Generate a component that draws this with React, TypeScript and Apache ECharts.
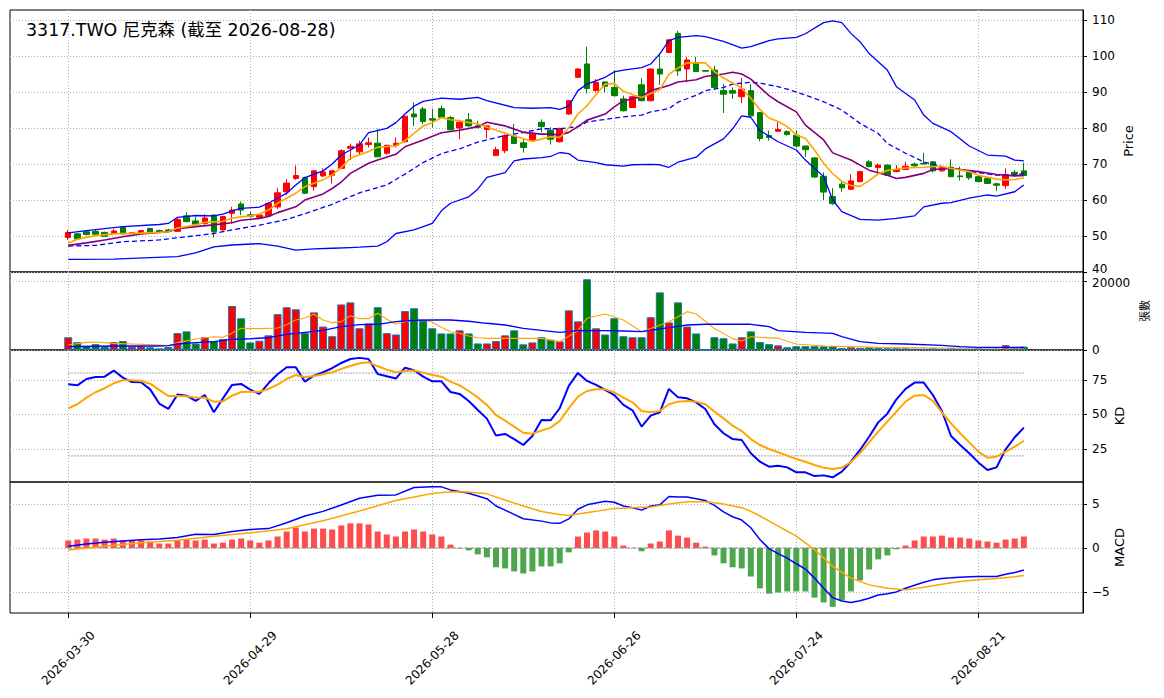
import { useEffect, useRef } from 'react';
import * as echarts from 'echarts';

const chartTitle = '3317.TWO 尼克森 (截至 2026-08-28)';
const tickIndex = [0, 20, 40, 60, 80, 100];
const tickLabels = ['2026-03-30', '2026-04-29', '2026-05-28', '2026-06-26', '2026-07-24', '2026-08-21'];

// one row per trading day: [open, close, low, high]
const candles = [
  [49.6, 51.0, 48.9, 51.7], [50.6, 49.2, 49.1, 50.8], [51.2, 50.4, 50.1, 51.5], [51.3, 50.5, 50.3, 51.8],
  [51.0, 49.9, 49.8, 51.2], [50.8, 51.4, 50.4, 51.9], [52.4, 50.6, 50.4, 52.6], [50.7, 50.9, 50.6, 51.0],
  [50.8, 51.5, 50.7, 51.7], [52.1, 51.0, 50.8, 52.3], [51.5, 51.0, 50.9, 51.8], [51.7, 51.3, 51.1, 52.0],
  [51.3, 54.6, 51.2, 55.0], [55.6, 54.0, 53.8, 56.6], [54.2, 53.3, 53.1, 55.4], [53.5, 55.0, 53.1, 56.1],
  [55.8, 51.2, 49.6, 56.1], [51.7, 55.4, 51.5, 55.6], [56.3, 57.2, 53.5, 58.1], [58.9, 57.2, 55.8, 59.6],
  [55.9, 55.5, 55.2, 56.8], [55.2, 55.8, 54.9, 56.1], [55.6, 59.1, 55.4, 59.3], [58.1, 62.0, 57.5, 63.4],
  [62.3, 64.7, 61.4, 65.8], [66.0, 66.8, 65.6, 69.6], [66.2, 61.9, 61.7, 66.5], [63.7, 68.1, 62.6, 68.3],
  [66.7, 67.8, 66.3, 68.8], [66.9, 68.1, 64.6, 68.3], [68.8, 73.7, 68.6, 74.1], [74.4, 74.9, 71.1, 75.7],
  [73.4, 75.6, 72.5, 76.5], [75.4, 75.9, 74.6, 77.4], [75.8, 72.0, 71.9, 79.8], [73.0, 75.2, 72.6, 75.4],
  [75.2, 75.8, 74.6, 77.4], [76.2, 83.3, 76.0, 83.4], [83.9, 83.1, 80.6, 87.1], [85.3, 81.8, 81.1, 85.9],
  [82.6, 82.2, 80.2, 85.4], [85.4, 83.0, 83.0, 86.2], [82.9, 79.5, 79.3, 83.4], [80.0, 81.6, 76.9, 82.0],
  [82.3, 80.6, 80.4, 84.2], [80.6, 80.2, 79.9, 82.0], [79.6, 80.6, 77.2, 80.8], [72.4, 74.0, 72.2, 74.8],
  [73.7, 77.9, 73.0, 78.3], [77.8, 75.7, 75.6, 81.1], [75.9, 74.6, 73.2, 77.2], [76.5, 78.3, 76.3, 79.0],
  [81.6, 80.4, 78.8, 82.4], [79.4, 76.9, 75.4, 80.2], [76.2, 79.9, 76.0, 80.1], [83.9, 87.6, 83.7, 87.8],
  [94.1, 96.4, 93.9, 96.6], [97.8, 91.0, 89.6, 102.6], [90.4, 92.7, 90.1, 93.6], [92.8, 91.6, 89.9, 92.9],
  [91.3, 89.0, 88.7, 96.1], [88.1, 84.8, 84.6, 89.0], [85.7, 88.7, 85.6, 89.0], [92.0, 87.6, 87.4, 93.8],
  [87.6, 96.4, 87.4, 96.6], [96.4, 95.0, 92.0, 100.8], [101.0, 104.5, 100.8, 104.7], [106.3, 95.9, 94.5, 107.0],
  [96.4, 98.9, 92.7, 99.8], [98.2, 95.7, 95.6, 99.8], [96.0, 95.8, 95.7, 96.1], [96.1, 91.3, 90.6, 97.3],
  [90.4, 89.4, 84.2, 92.2], [90.4, 89.7, 88.1, 91.3], [88.7, 90.8, 86.9, 93.9], [90.4, 83.4, 82.8, 92.2],
  [84.3, 77.1, 76.3, 84.4], [77.9, 77.4, 76.5, 79.3], [79.1, 79.6, 79.1, 81.6], [79.0, 78.2, 77.9, 79.4],
  [78.0, 75.0, 74.6, 79.3], [75.0, 74.0, 72.0, 75.1], [71.7, 66.4, 66.1, 71.9], [66.6, 62.2, 60.0, 67.7],
  [61.0, 59.0, 58.6, 63.3], [64.4, 63.4, 62.3, 65.1], [63.0, 65.3, 62.8, 67.1], [65.1, 67.9, 64.9, 68.1],
  [70.6, 69.3, 69.1, 71.1], [69.0, 69.7, 67.4, 70.2], [69.7, 66.9, 66.8, 69.9], [67.9, 68.5, 67.7, 69.7],
  [68.5, 69.4, 68.3, 70.6], [70.0, 69.5, 69.3, 70.4], [70.2, 70.0, 69.9, 73.1], [70.6, 68.1, 67.7, 70.8],
  [68.1, 69.1, 67.9, 69.3], [69.1, 66.5, 66.3, 71.3], [66.7, 66.5, 65.4, 69.3], [68.1, 66.2, 65.6, 68.3],
  [66.5, 65.1, 64.9, 66.7], [66.0, 64.6, 64.4, 66.2], [64.5, 64.1, 62.5, 64.8], [64.0, 67.1, 63.1, 68.8],
  [67.7, 67.1, 66.5, 68.3], [68.1, 66.8, 66.6, 70.4],
];

const volumes = [
  3700, 2300, 1200, 1700, 1000, 2300, 2600, 1000, 1100, 800,
  500, 900, 4900, 5400, 1900, 3700, 2600, 3200, 12750, 9200,
  2200, 2700, 4250, 10400, 12400, 11800, 5000, 10900, 6800, 4000,
  13200, 13800, 6300, 7700, 12400, 4900, 4500, 11300, 12100, 8500,
  6300, 4800, 4800, 5700, 4800, 1900, 1900, 2600, 4250, 5700,
  1650, 2200, 3700, 3000, 2500, 11500, 8300, 20500, 6300, 4500,
  9200, 4000, 3700, 3700, 9500, 16700, 8000, 13800, 6800, 4800,
  100, 3700, 3400, 1900, 3700, 5400, 2300, 1700, 1350, 800,
  1100, 1100, 1100, 1100, 1100, 600, 800, 600, 800, 600,
  500, 500, 500, 400, 400, 500, 400, 500, 400, 400,
  500, 400, 400, 1400, 700, 1000,
];

// [day index, value] pairs
const ma5 = [
  [0, 48.0], [1, 49.1], [3, 50.1], [5, 50.6], [8, 50.8], [10, 51.0], [11, 51.2], [12, 52.2], [14, 53.1],
  [15, 53.8], [17, 54.1], [18, 55.0], [20, 55.6], [21, 56.1], [22, 57.2], [23, 59.1], [25, 61.9], [26, 63.7],
  [28, 65.6], [29, 67.0], [30, 69.0], [31, 71.6], [33, 73.5], [34, 74.7], [36, 75.0], [37, 76.5], [38, 78.5],
  [39, 80.6], [40, 81.5], [41, 82.9], [42, 82.3], [43, 82.0], [45, 81.1], [47, 79.4], [49, 77.8], [51, 76.3],
  [53, 77.6], [54, 77.4], [55, 80.0], [56, 83.9], [57, 86.2], [58, 89.3], [59, 92.2], [60, 92.4], [61, 90.2],
  [62, 89.3], [63, 88.5], [64, 89.6], [65, 90.7], [66, 94.9], [67, 96.7], [68, 98.1], [69, 98.1], [70, 98.1],
  [71, 95.7], [72, 93.9], [73, 92.5], [74, 91.1], [75, 88.3], [76, 85.1], [77, 82.8], [78, 81.8], [79, 80.4],
  [80, 78.1], [81, 77.1], [82, 73.9], [83, 70.2], [84, 67.3], [85, 65.2], [86, 64.0], [87, 63.8], [88, 65.4],
  [89, 67.3], [90, 68.2], [92, 68.9], [94, 69.1], [95, 69.3], [96, 69.3], [97, 68.8], [99, 67.9], [100, 66.9],
  [102, 65.8], [103, 65.6], [104, 65.7], [105, 66.2],
];
const ma10 = [
  [0, 47.4], [2, 48.1], [4, 48.9], [6, 49.8], [8, 50.6], [10, 51.0], [11, 51.2], [12, 52.0], [14, 52.6],
  [16, 53.1], [18, 53.7], [19, 54.4], [21, 54.9], [22, 55.4], [23, 56.5], [25, 58.1], [26, 60.0], [28, 61.7],
  [29, 63.2], [30, 65.0], [31, 67.4], [33, 70.2], [34, 71.1], [36, 72.7], [37, 74.8], [39, 76.7], [41, 78.7],
  [43, 79.4], [45, 80.4], [46, 81.6], [48, 80.6], [49, 79.7], [50, 78.8], [52, 78.3], [53, 78.3], [54, 78.1],
  [55, 78.8], [56, 80.4], [57, 82.2], [59, 83.9], [60, 85.9], [61, 87.6], [63, 88.7], [64, 90.4], [66, 91.8],
  [67, 92.8], [69, 93.4], [70, 94.3], [72, 95.0], [73, 95.5], [74, 95.0], [75, 93.6], [76, 91.3], [77, 89.0],
  [78, 87.3], [80, 84.5], [81, 80.8], [83, 76.7], [84, 73.1], [86, 71.1], [87, 69.7], [88, 68.3], [90, 66.9],
  [91, 66.0], [92, 66.3], [94, 67.4], [95, 68.5], [97, 68.8], [98, 68.5], [100, 67.9], [102, 67.1], [104, 66.7],
  [105, 66.8],
];
const ma20 = [
  [0, 47.2], [3, 47.4], [6, 48.4], [10, 48.9], [13, 49.8], [16, 50.7], [18, 51.7], [21, 53.0], [24, 54.6],
  [26, 56.2], [29, 58.8], [32, 62.0], [35, 64.2], [37, 67.2], [39, 70.4], [41, 72.9], [43, 74.2], [45, 76.1],
  [48, 77.9], [50, 78.8], [52, 79.8], [54, 79.8], [56, 80.4], [57, 81.7], [59, 82.4], [60, 82.8], [61, 83.1],
  [63, 83.6], [64, 84.5], [66, 85.4], [67, 87.2], [69, 89.1], [70, 90.4], [72, 91.3], [73, 92.2], [75, 92.7],
  [76, 92.5], [78, 91.5], [79, 90.8], [81, 89.2], [83, 87.3], [85, 85.0], [87, 81.3], [89, 78.5], [90, 75.7],
  [92, 73.0], [94, 70.6], [96, 69.3], [98, 68.5], [100, 67.6], [102, 66.9], [104, 66.9], [105, 67.4],
];
const bollUpper = [
  [0, 50.9], [2, 51.5], [6, 52.6], [10, 53.2], [11, 53.5], [12, 55.2], [14, 55.7], [16, 55.6], [17, 56.1],
  [18, 57.0], [19, 57.7], [21, 58.0], [22, 59.1], [24, 61.9], [25, 64.2], [26, 66.2], [28, 68.1], [29, 70.0],
  [30, 72.5], [32, 75.3], [33, 78.7], [35, 79.9], [36, 81.5], [37, 83.9], [38, 86.1], [39, 87.4], [41, 88.3],
  [43, 88.0], [45, 88.5], [46, 87.6], [49, 85.7], [51, 85.5], [53, 85.7], [54, 85.2], [55, 86.1], [56, 90.4],
  [57, 92.2], [59, 94.1], [60, 95.6], [61, 96.1], [63, 96.8], [64, 97.8], [65, 100.6], [66, 104.3], [67, 105.2],
  [69, 105.7], [70, 105.4], [72, 104.1], [74, 102.2], [75, 102.6], [77, 104.3], [78, 104.8], [80, 105.2],
  [81, 106.2], [83, 109.3], [84, 109.8], [85, 109.3], [86, 106.3], [87, 104.0], [88, 100.7], [90, 96.1],
  [91, 91.5], [93, 87.8], [94, 83.6], [95, 81.3], [97, 79.0], [99, 75.0], [101, 72.5], [103, 72.2], [104, 71.1],
  [105, 70.9],
];
const bollLower = [
  [0, 43.5], [5, 43.6], [9, 44.0], [12, 44.3], [14, 45.3], [16, 47.0], [18, 47.5], [21, 47.9], [23, 47.2],
  [25, 46.1], [27, 46.4], [29, 46.6], [31, 46.8], [32, 46.9], [34, 47.2], [35, 48.4], [36, 50.7], [38, 51.7],
  [40, 53.5], [41, 57.0], [42, 59.1], [44, 60.9], [45, 63.0], [46, 66.3], [48, 67.6], [49, 70.9], [50, 71.4],
  [52, 71.8], [53, 72.1], [54, 73.2], [55, 72.9], [56, 71.1], [58, 70.4], [59, 69.8], [61, 69.4], [62, 69.8],
  [64, 69.9], [65, 69.8], [66, 69.1], [67, 70.5], [69, 71.9], [70, 74.2], [72, 77.0], [73, 79.8], [74, 83.4],
  [75, 83.0], [76, 79.3], [78, 76.2], [80, 73.9], [81, 71.1], [83, 66.5], [84, 60.0], [85, 56.8], [87, 54.6],
  [89, 54.4], [91, 54.9], [93, 55.6], [94, 58.1], [96, 59.1], [97, 59.3], [99, 60.5], [101, 61.4], [102, 61.1],
  [104, 62.3], [105, 64.2],
];

// [day index, value] pairs
const volMa5 = [
  [0, 1450], [2, 2220], [3, 2320], [5, 1930], [7, 1740], [9, 1550], [11, 1260], [12, 2130], [14, 3190],
  [16, 3860], [17, 3670], [18, 4930], [19, 6280], [21, 6180], [23, 6380], [24, 7340], [25, 8690], [26, 9270],
  [27, 10340], [28, 8690], [29, 7920], [30, 8210], [31, 9950], [32, 9080], [33, 9080], [34, 10630], [35, 8890],
  [36, 7530], [37, 8210], [38, 8690], [39, 8690], [40, 8110], [41, 6570], [42, 5310], [43, 4830], [44, 4060],
  [45, 3570], [46, 3380], [48, 3380], [50, 3380], [52, 3380], [54, 2420], [56, 5600], [57, 9180], [59, 10430],
  [61, 8690], [63, 5310], [64, 6200], [66, 8210], [68, 11110], [69, 10430], [71, 6200], [73, 3300], [74, 2610],
  [75, 3860], [78, 3380], [80, 1740], [83, 1160], [89, 770], [96, 600], [105, 600],
];
const volMa20 = [
  [0, 970], [5, 1160], [10, 1160], [11, 1260], [12, 1740], [14, 2130], [16, 2420], [18, 3090], [20, 3280],
  [22, 3570], [24, 4540], [26, 5120], [28, 5700], [30, 6760], [32, 7340], [34, 7440], [36, 8210], [38, 8600],
  [40, 8690], [42, 8690], [44, 8310], [46, 7730], [48, 7250], [50, 6280], [52, 5700], [54, 5120], [56, 5600],
  [59, 5600], [61, 5510], [63, 5310], [66, 6470], [68, 7250], [70, 7440], [75, 7440], [77, 6760], [78, 5600],
  [81, 5120], [84, 4830], [85, 3860], [87, 2420], [89, 1930], [92, 1740], [96, 1350], [98, 970], [100, 770],
  [105, 770],
];

const kValues = [
  71.9, 71.1, 75.7, 77.2, 77.4, 81.8, 76.7, 73.5, 73.3, 68.2,
  57.9, 54.0, 64.4, 63.6, 59.8, 64.1, 51.6, 61.7, 71.4, 72.1,
  68.0, 64.9, 72.6, 79.1, 84.2, 84.2, 73.8, 78.1, 80.6, 83.5,
  87.3, 90.2, 91.0, 90.2, 79.3, 77.7, 76.0, 83.9, 82.0, 77.4,
  74.0, 74.0, 66.3, 64.9, 59.8, 53.3, 47.0, 34.7, 35.9, 32.2,
  27.9, 34.4, 46.0, 45.8, 54.5, 70.7, 80.1, 74.3, 71.4, 67.8,
  64.1, 57.0, 53.0, 41.2, 49.2, 51.6, 68.5, 62.4, 61.7, 58.8,
  54.0, 42.9, 36.4, 32.2, 31.5, 21.9, 15.8, 12.2, 12.9, 11.7,
  8.1, 8.1, 5.4, 5.9, 4.5, 8.6, 15.8, 24.3, 33.9, 44.3,
  50.6, 61.0, 68.5, 73.1, 73.1, 64.1, 52.5, 34.4, 27.9, 21.9,
  15.3, 9.8, 11.7, 24.8, 33.5, 40.5,
];
const dValues = [
  54.5, 57.4, 62.2, 66.1, 69.0, 72.6, 74.8, 74.8, 74.3, 72.3,
  67.8, 63.4, 63.4, 63.2, 62.2, 62.2, 59.3, 59.5, 63.6, 66.3,
  66.5, 66.5, 68.5, 71.6, 75.7, 78.6, 76.9, 77.9, 79.1, 80.6,
  83.0, 85.1, 87.1, 87.8, 84.9, 82.5, 80.6, 81.5, 81.8, 80.3,
  78.6, 77.4, 73.8, 71.1, 67.0, 62.4, 56.9, 49.6, 45.5, 41.2,
  36.8, 36.1, 38.3, 40.5, 45.3, 54.5, 62.9, 67.0, 68.2, 68.2,
  66.1, 62.2, 58.8, 52.5, 51.6, 52.5, 57.4, 59.3, 59.8, 59.3,
  57.4, 52.1, 47.2, 41.9, 38.0, 32.2, 27.9, 25.0, 22.6, 20.2,
  17.8, 15.8, 13.4, 11.5, 10.5, 11.5, 15.5, 22.0, 29.8, 37.6,
  44.8, 52.1, 59.3, 63.6, 64.1, 59.8, 51.6, 43.6, 36.4, 29.8,
  23.1, 18.7, 19.4, 23.1, 26.7, 31.0,
];
const kdLevels = [20, 80];

const macdHist = [
  0.85, 0.95, 1.07, 1.07, 0.95, 1.07, 0.85, 0.85, 0.85, 0.7,
  0.5, 0.5, 0.85, 0.95, 0.85, 0.95, 0.5, 0.6, 0.95, 1.07,
  0.85, 0.6, 0.85, 1.3, 1.87, 2.33, 1.87, 2.2, 2.2, 2.1,
  2.56, 2.8, 2.8, 2.67, 1.87, 1.53, 1.3, 1.87, 2.1, 1.87,
  1.53, 1.3, 0.38, -0.05, -0.27, -0.73, -1.07, -2.2, -2.33, -2.67,
  -2.9, -2.67, -2.1, -2.1, -1.75, -0.5, 1.3, 1.75, 2.0, 1.87,
  1.3, 0.27, 0.02, -0.38, 0.5, 0.73, 2.0, 1.4, 1.18, 0.6,
  0.15, -0.85, -1.75, -2.2, -2.33, -3.25, -4.6, -5.2, -5.07, -4.95,
  -4.95, -4.95, -5.65, -6.2, -6.7, -5.95, -4.95, -3.7, -2.45, -1.3,
  -0.85, -0.15, 0.27, 0.85, 1.3, 1.3, 1.4, 1.18, 1.18, 1.07,
  0.85, 0.73, 0.6, 0.95, 1.07, 1.3,
];
const difLine = [
  [0, 0.19], [2, 0.46], [4, 0.65], [6, 0.8], [8, 0.92], [10, 1.03], [12, 1.18], [14, 1.56], [16, 1.53],
  [18, 1.87], [20, 2.1], [22, 2.2], [24, 2.86], [26, 3.63], [28, 4.16], [30, 4.89], [32, 5.65], [34, 6.0],
  [36, 6.03], [38, 6.87], [40, 6.95], [41, 6.95], [42, 6.6], [44, 6.22], [46, 5.6], [47, 4.77], [48, 4.3],
  [50, 3.32], [52, 3.05], [53, 2.85], [54, 2.8], [55, 3.3], [56, 4.4], [57, 4.9], [58, 5.1], [59, 5.3],
  [60, 5.2], [61, 4.77], [62, 4.58], [63, 4.3], [64, 4.77], [65, 4.9], [66, 5.85], [67, 5.8], [68, 5.8],
  [69, 5.6], [70, 5.4], [71, 4.85], [72, 4.1], [73, 3.55], [74, 3.17], [75, 2.3], [76, 0.95], [77, -0.08],
  [78, -0.65], [79, -1.15], [80, -1.8], [81, -2.4], [82, -3.43], [83, -4.58], [84, -5.65], [85, -6.03],
  [86, -6.2], [87, -6.0], [88, -5.73], [89, -5.35], [90, -5.2], [91, -5.0], [92, -4.58], [93, -4.24],
  [94, -3.9], [95, -3.63], [96, -3.47], [97, -3.4], [98, -3.32], [99, -3.28], [100, -3.25], [101, -3.25],
  [102, -3.25], [103, -3.0], [104, -2.8], [105, -2.52],
];
const deaLine = [
  [0, -0.23], [4, 0.19], [8, 0.6], [12, 0.88], [16, 1.34], [20, 1.72], [24, 2.18], [28, 3.1], [32, 4.2],
  [36, 5.4], [40, 6.18], [42, 6.4], [44, 6.37], [46, 6.15], [48, 5.45], [50, 4.77], [52, 4.15], [54, 3.8],
  [55, 3.7], [56, 3.85], [58, 4.16], [60, 4.5], [62, 4.58], [64, 4.65], [66, 5.0], [68, 5.25], [70, 5.25],
  [72, 5.0], [74, 4.58], [75, 4.16], [76, 3.63], [78, 2.48], [80, 1.34], [82, -0.19], [84, -2.1], [86, -3.43],
  [88, -4.2], [90, -4.58], [92, -4.77], [94, -4.47], [96, -4.12], [98, -3.82], [100, -3.63], [102, -3.47],
  [104, -3.28], [105, -3.13],
];

const RED = '#ff0000';
const GREEN = '#008000';
const X_MIN = -6.4;
const X_MAX = 111.5;
const GRID_LINE = { type: [1, 2], color: '#b0b0b0', width: 1 };
const FONT = 'DejaVu Sans, "Noto Sans CJK TC", sans-serif';

const panels = [
  { top: 10, height: 262 },
  { top: 272, height: 78 },
  { top: 350, height: 132 },
  { top: 482, height: 131 },
];

// rich styles nudge the two labels that meet at the price / volume boundary apart
const labelRich = {
  up: { padding: [0, 0, 6, 0], fontSize: 12, fontFamily: FONT, color: '#000' },
  down: { padding: [4, 0, 0, 0], fontSize: 12, fontFamily: FONT, color: '#000' },
};

function yAxis(
  gridIndex: number,
  name: string,
  nameGap: number,
  nameSize: number,
  shown: number[],
  range: any,
  nudge: Record<number, string> = {},
) {
  return {
    type: 'value',
    gridIndex,
    position: 'right',
    ...range,
    name,
    nameLocation: 'middle',
    nameRotate: 90,
    nameGap,
    nameMoveOverlap: false,
    nameTextStyle: { color: '#000', fontSize: nameSize, fontFamily: FONT },
    axisLine: { show: true, onZero: false, lineStyle: { color: '#000', width: 1 } },
    axisTick: { show: true, length: 4, lineStyle: { color: '#000' }, customValues: shown },
    axisLabel: {
      color: '#000',
      fontSize: 12,
      fontFamily: FONT,
      margin: 9,
      customValues: shown,
      rich: labelRich,
      formatter: (v: number) => {
        if (!shown.includes(v)) return '';
        const txt = v < 0 ? '\u2212' + -v : String(v);
        return nudge[v] ? `{${nudge[v]}|${txt}}` : txt;
      },
    },
    splitLine: { show: true, lineStyle: GRID_LINE },
  };
}

function line(data: number[][], color: string, width: number, axis: number, type: any = 'solid', z = 3) {
  return {
    type: 'line',
    xAxisIndex: axis,
    yAxisIndex: axis,
    data,
    symbol: 'none',
    showSymbol: false,
    silent: true,
    lineStyle: { color, width, type },
    z,
  };
}

export default function App() {
  const ref = useRef<HTMLDivElement>(null);

  useEffect(() => {
    if (!ref.current) return undefined;
    const chart = echarts.init(ref.current, undefined, { renderer: 'svg' });
    const last = candles.length - 1;

    const option: any = {
      animation: false,
      backgroundColor: '#fff',
      textStyle: { fontFamily: FONT },
      title: {
        text: chartTitle,
        left: 26,
        top: 21,
        padding: 0,
        textStyle: { color: '#000', fontSize: 17.4, fontWeight: 'normal', fontFamily: FONT },
      },
      grid: panels.map((p) => ({
        left: 10,
        right: 81,
        top: p.top,
        height: p.height,
        show: true,
        borderColor: '#000',
        borderWidth: 1,
        backgroundColor: 'transparent',
      })),
      xAxis: panels.map((_, i) => ({
        type: 'value',
        gridIndex: i,
        min: X_MIN,
        max: X_MAX,
        minInterval: 20,
        maxInterval: 20,
        axisLine: { show: false, onZero: false },
        axisTick: { show: i === 3, length: 5, lineStyle: { color: '#000' }, customValues: tickIndex },
        axisLabel: {
          show: i === 3,
          customValues: tickIndex,
          rotate: 45,
          align: 'center',
          verticalAlign: 'middle',
          margin: 45,
          fontSize: 12,
          color: '#000',
          fontFamily: FONT,
          formatter: (v: number) => {
            const k = tickIndex.indexOf(v);
            return k >= 0 ? tickLabels[k] : '';
          },
        },
        splitLine: { show: true, lineStyle: GRID_LINE },
      })),
      yAxis: [
        yAxis(0, 'Price', 39, 13, [40, 50, 60, 70, 80, 90, 100, 110], { min: 40, max: 112.8, interval: 10 }, { 40: 'up' }),
        yAxis(1, '張數', 57, 11, [0, 20000], { min: 0, max: 22600, interval: 20000 }, { 20000: 'down' }),
        yAxis(2, 'KD', 30, 13, [25, 50, 75], { min: 1.1, max: 96.7, minInterval: 25, maxInterval: 25 }),
        yAxis(3, 'MACD', 30, 13, [-5, 0, 5], { min: -7.4, max: 7.5, minInterval: 5, maxInterval: 5 }),
      ],
      series: [
        {
          type: 'candlestick',
          xAxisIndex: 0,
          yAxisIndex: 0,
          barWidth: 6,
          silent: true,
          dimensions: ['day', 'open', 'close', 'lowest', 'highest'],
          encode: { x: 0, y: [1, 2, 3, 4] },
          data: candles.map((c, i) => [i, c[0], c[1], c[2], c[3]]),
          itemStyle: { color: RED, color0: GREEN, borderColor: RED, borderColor0: GREEN, borderWidth: 1 },
          z: 2,
        },
        line(bollUpper, '#0000ff', 1.3, 0),
        line(bollLower, '#0000ff', 1.3, 0),
        line(ma20, '#0000ff', 1.3, 0, [5, 3]),
        line(ma10, '#800080', 1.6, 0),
        line(ma5, '#ffa500', 1.6, 0),
        {
          type: 'bar',
          xAxisIndex: 1,
          yAxisIndex: 1,
          barWidth: 8,
          silent: true,
          data: volumes.map((v, i) => ({
            value: [i, v],
            itemStyle: {
              color: candles[i][1] >= candles[i][0] ? RED : GREEN,
              borderColor: '#1f77b4',
              borderWidth: 1,
            },
          })),
          z: 2,
        },
        line(volMa5, '#ffa500', 1.1, 1),
        line(volMa20, '#0000ff', 1.4, 1),
        ...kdLevels.map((lv) => line([[0, lv], [last, lv]], '#888888', 1, 2, [1.5, 1.5], 2)),
        line(kValues.map((v, i) => [i, v]), '#0000ff', 2, 2),
        line(dValues.map((v, i) => [i, v]), '#ffa500', 2, 2),
        {
          type: 'bar',
          xAxisIndex: 3,
          yAxisIndex: 3,
          barWidth: 6,
          silent: true,
          data: macdHist.map((v, i) => ({
            value: [i, v],
            itemStyle: { color: v >= 0 ? '#ff4c4c' : '#4ca64c' },
          })),
          z: 2,
        },
        line([[0, 0], [last, 0]], '#888888', 1, 3, [4, 2], 2),
        line(difLine, '#0000ff', 1.5, 3),
        line(deaLine, '#ffa500', 1.5, 3),
      ],
    };

    chart.setOption(option);
    return () => {
      chart.dispose();
    };
  }, []);

  return (
    <div
      ref={ref}
      style={{ position: 'fixed', left: 0, top: 0, width: 1164, height: 698, background: '#fff' }}
    />
  );
}
